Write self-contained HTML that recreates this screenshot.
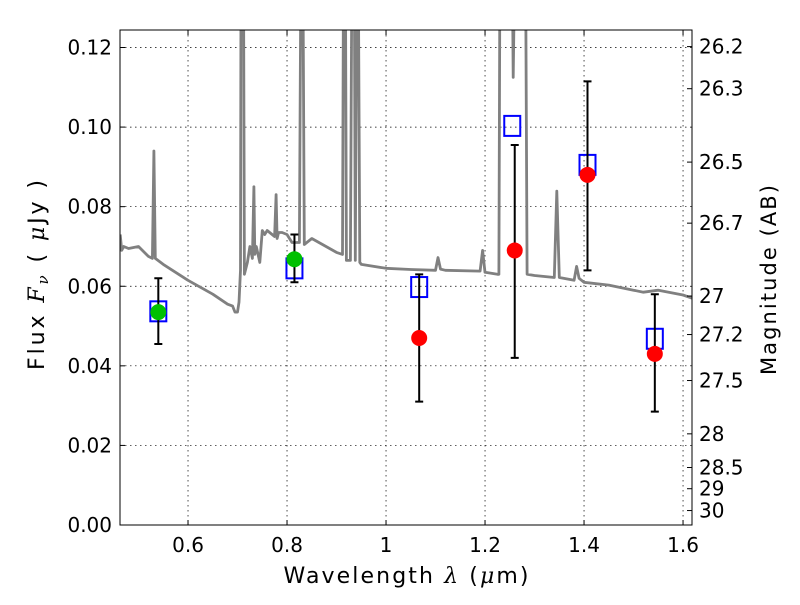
<!DOCTYPE html>
<html><head><meta charset="utf-8"><style>
html,body{margin:0;padding:0;background:#fff;}
svg text{font-family:"DejaVu Sans","Liberation Sans",sans-serif;}
</style></head><body>
<svg id="chart" width="800" height="600" xmlns="http://www.w3.org/2000/svg">
<defs><clipPath id="clip"><rect x="120" y="30" width="572" height="495"/></clipPath></defs>
<rect width="800" height="600" fill="#fff"/>
<g id="grid"></g>
<g id="spec" clip-path="url(#clip)"></g>
<g id="marks"></g>
<rect x="120" y="30" width="572" height="495" fill="none" stroke="#000" stroke-width="1"/>
<g id="axes"></g>
<text x="406" y="583" font-size="22" text-anchor="middle" textLength="245" lengthAdjust="spacing">Wavelength  <tspan font-family="DejaVu Serif" font-style="italic">λ</tspan> (<tspan font-family="DejaVu Serif" font-style="italic">μ</tspan>m)</text>
<text transform="translate(44,275) rotate(-90)" font-size="22" text-anchor="middle" textLength="190" lengthAdjust="spacing">Flux  <tspan font-family="DejaVu Serif" font-style="italic">F<tspan font-size="15" dy="4">ν</tspan></tspan><tspan dy="-4">  (  </tspan><tspan font-family="DejaVu Serif" font-style="italic">μ</tspan>Jy )</text>
<text transform="translate(776,280) rotate(-90)" font-size="21" text-anchor="middle" textLength="190" lengthAdjust="spacing">Magnitude (AB)</text>
</svg>
<script>
const xTicks=[0.6,0.8,1.0,1.2,1.4,1.6];
const xTickLabels=["0.6","0.8","1","1.2","1.4","1.6"];
const yTicks=[0,0.02,0.04,0.06,0.08,0.10,0.12];
const yTickLabels=["0.00","0.02","0.04","0.06","0.08","0.10","0.12"];
const magTicks=[26.2,26.3,26.5,26.7,27,27.2,27.5,28,28.5,29,30];
const magLabels=["26.2","26.3","26.5","26.7","27","27.2","27.5","28","28.5","29","30"];
const specWave=[0.463,0.466,0.47,0.48,0.5,0.52,0.528,0.531,0.534,0.55,0.6,0.65,0.68,0.69,0.695,0.70,0.703,0.706,0.707,0.712,0.714,0.72,0.725,0.73,0.733,0.735,0.738,0.745,0.75,0.755,0.76,0.775,0.778,0.78,0.783,0.79,0.8,0.81,0.825,0.828,0.832,0.835,0.85,0.9,0.912,0.914,0.918,0.92,0.928,0.931,0.936,0.938,0.941,0.944,0.947,0.95,1.0,1.05,1.1,1.105,1.11,1.12,1.19,1.195,1.2,1.225,1.228,1.23,1.255,1.257,1.26,1.282,1.285,1.3,1.34,1.345,1.35,1.38,1.385,1.39,1.4,1.45,1.5,1.52,1.55,1.6,1.618];
const specFlux=[0.073,0.069,0.07,0.0695,0.07,0.0675,0.067,0.094,0.067,0.0655,0.0615,0.058,0.0555,0.055,0.0535,0.0535,0.056,0.064,0.2,0.2,0.063,0.066,0.07,0.067,0.085,0.068,0.07,0.066,0.074,0.073,0.074,0.0725,0.083,0.072,0.0735,0.0735,0.073,0.071,0.071,0.2,0.2,0.0705,0.072,0.0685,0.068,0.2,0.2,0.0665,0.0665,0.2,0.2,0.0665,0.2,0.2,0.066,0.0655,0.0645,0.0642,0.064,0.0672,0.0643,0.064,0.0638,0.069,0.0635,0.063,0.063,0.2,0.2,0.1125,0.2,0.2,0.063,0.0627,0.0622,0.0839,0.0622,0.0615,0.065,0.062,0.061,0.0603,0.059,0.0585,0.059,0.0578,0.057];
const greenWave=[0.54,0.815];
const greenFlux=[0.0535,0.0668];
const redWave=[1.067,1.26,1.407,1.543];
const redFlux=[0.047,0.069,0.088,0.043];
const boxWave=[0.54,0.815,1.067,1.255,1.407,1.543];
const boxFlux=[0.0537,0.0645,0.0598,0.1003,0.0905,0.0468];
const errWave=[0.54,0.815,1.067,1.26,1.407,1.543];
const errLow=[0.0455,0.061,0.031,0.042,0.064,0.0285];
const errHigh=[0.062,0.073,0.063,0.0955,0.1115,0.058];

const X0=120,X1=692,Y0=525,Y1=30,XMIN=0.4626,XMAX=1.6181,YMIN=0,YMAX=0.1244;
const sx=v=>X0+(v-XMIN)/(XMAX-XMIN)*(X1-X0);
const sy=v=>Y0-(v-YMIN)/(YMAX-YMIN)*(Y0-Y1);
const NS="http://www.w3.org/2000/svg";
function mk(tag,attrs,parent){const e=document.createElementNS(NS,tag);for(const k in attrs)e.setAttribute(k,attrs[k]);document.getElementById(parent).appendChild(e);return e;}

xTicks.forEach((t,i)=>{const x=sx(t);
 const g=mk('line',{x1:x,x2:x,y1:Y1,y2:Y0,stroke:'#000','stroke-width':0.7,'stroke-dasharray':'1.5,3.5'},'grid');
 
 
 mk('line',{x1:x,x2:x,y1:Y0,y2:Y0-5,stroke:'#000'},'axes');
 mk('line',{x1:x,x2:x,y1:Y1,y2:Y1+5,stroke:'#000'},'axes');
 const l=mk('text',{x:x,y:552,'font-size':20,'text-anchor':'middle'},'axes');l.textContent=xTickLabels[i];
 
 
});
yTicks.forEach((t,i)=>{const y=sy(t);
 if(i>0){const g=mk('line',{x1:X0,x2:X1,y1:y,y2:y,stroke:'#000','stroke-width':0.7,'stroke-dasharray':'1.5,3.5'},'grid');
 
 }
 mk('line',{x1:X0,x2:X0+5,y1:y,y2:y,stroke:'#000'},'axes');
 const l=mk('text',{x:112,y:y+7,'font-size':20,'text-anchor':'end'},'axes');l.textContent=yTickLabels[i];
 
 
});
magTicks.forEach((m,i)=>{const f=Math.pow(10,(23.9-m)/2.5);const y=sy(f);
 mk('line',{x1:X1,x2:X1-5,y1:y,y2:y,stroke:'#000'},'axes');
 const l=mk('text',{x:699,y:y+7,'font-size':20},'axes');l.textContent=magLabels[i];
 
 
});
const pts=specWave.map((w,i)=>sx(w).toFixed(1)+','+sy(Math.min(specFlux[i],0.14)).toFixed(1)).join(' ');
const sp=mk('polyline',{points:pts,fill:'none',stroke:'#808080','stroke-width':2.8,'stroke-linejoin':'round'},'spec');


boxWave.forEach((w,i)=>{const r=mk('rect',{x:sx(w)-8,y:sy(boxFlux[i])-10,width:16,height:20,fill:'none',stroke:'#0000ff','stroke-width':2},'marks');
 
 });
errWave.forEach((w,i)=>{const x=sx(w);
 const e=mk('path',{d:`M${x},${sy(errLow[i])}V${sy(errHigh[i])}M${x-4},${sy(errLow[i])}h8M${x-4},${sy(errHigh[i])}h8`,stroke:'#000','stroke-width':2,fill:'none'},'marks');
 
 });
greenWave.forEach((w,i)=>{const c=mk('circle',{cx:sx(w),cy:sy(greenFlux[i]),r:8,fill:'#00c000'},'marks');
 
 });
redWave.forEach((w,i)=>{const c=mk('circle',{cx:sx(w),cy:sy(redFlux[i]),r:8,fill:'#ff0000'},'marks');
 
 });
</script>
</body></html>
